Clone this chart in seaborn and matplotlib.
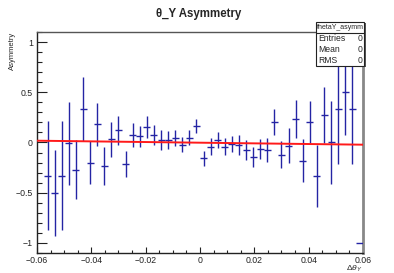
import numpy as np
import pandas as pd
import matplotlib
matplotlib.use("Agg")
import matplotlib.pyplot as plt
from matplotlib.ticker import MultipleLocator
from matplotlib.patches import Rectangle
import seaborn as sns

# bin centres (46 bins over -0.06..0.06, first one empty)
dtheta = [-0.0561, -0.0535, -0.0509, -0.0483, -0.0457, -0.0430, -0.0404, -0.0378,
          -0.0352, -0.0326, -0.0300, -0.0274, -0.0248, -0.0222, -0.0196, -0.0170,
          -0.0143, -0.0117, -0.0091, -0.0065, -0.0039, -0.0013, 0.0013, 0.0039,
          0.0065, 0.0091, 0.0117, 0.0143, 0.0170, 0.0196, 0.0222, 0.0248,
          0.0274, 0.0300, 0.0326, 0.0352, 0.0378, 0.0404, 0.0430, 0.0457,
          0.0483, 0.0509, 0.0535, 0.0561, 0.0587]
asym = [-0.33, -0.50, -0.33, -0.01, -0.27, 0.33, -0.20, 0.18,
        -0.23, 0.03, 0.12, -0.21, 0.076, 0.06, 0.15, 0.073,
        0.027, 0.023, 0.043, -0.023, 0.046, 0.165, -0.155, -0.04,
        0.027, -0.04, -0.013, -0.026, -0.072, -0.148, -0.062, -0.079,
        0.20, -0.12, -0.03, 0.23, -0.18, 0.20, -0.33, 0.27,
        0.0, 0.33, 0.50, 0.33, -1.0]
asym_err = [0.54, 0.43, 0.54, 0.41, 0.29, 0.32, 0.21, 0.21,
            0.19, 0.17, 0.14, 0.13, 0.12, 0.10, 0.11, 0.10,
            0.10, 0.09, 0.08, 0.075, 0.075, 0.07, 0.075, 0.08,
            0.08, 0.08, 0.08, 0.10, 0.10, 0.10, 0.10, 0.12,
            0.13, 0.13, 0.17, 0.19, 0.21, 0.21, 0.31, 0.28,
            0.41, 0.54, 0.43, 0.54, 0.0]
half_bin = 0.0013

# linear fit parameters (p0 + p1*x)
fit_p0 = -0.002
fit_p1 = -0.33
fit_range = [-0.06, 0.06]

stats_names = ["Entries", "Mean", "RMS"]
stats_vals = ["0", "0", "0"]

sns.set_style("ticks")
plt.rcParams['font.family'] = ['Liberation Sans', 'DejaVu Sans']
plt.rcParams['mathtext.fontset'] = 'custom'
plt.rcParams['mathtext.rm'] = 'Liberation Sans'
plt.rcParams['mathtext.it'] = 'Liberation Sans:italic'

fig = plt.figure(figsize=(3.94, 2.73), dpi=100)
ax = fig.add_axes([0.0939, 0.0733, 0.8274, 0.8095])

df = pd.DataFrame({"x": dtheta, "y": asym, "err": asym_err})
ax.errorbar(df["x"], df["y"], yerr=df["err"], xerr=half_bin, fmt="none",
            ecolor="#2424a4", elinewidth=1.0, capsize=0, zorder=3)

fit_df = pd.DataFrame({"x": fit_range})
fit_df["y"] = fit_p0 + fit_p1 * fit_df["x"]
sns.lineplot(data=fit_df, x="x", y="y", color="#ff1a1a", linewidth=1.4, ax=ax, zorder=4)

ax.set_xlim(-0.06, 0.06)
ax.set_ylim(-1.1, 1.1)
ax.set_xlabel("")
ax.set_ylabel("")
ax.xaxis.set_minor_locator(MultipleLocator(0.005))
ax.yaxis.set_minor_locator(MultipleLocator(0.1))
ax.set_xticks([-0.06, -0.04, -0.02, 0, 0.02, 0.04, 0.06])
ax.set_xticklabels(["\u22120.06", "\u22120.04", "\u22120.02", "0", "0.02", "0.04", "0.06"])
ax.set_yticks([-1, -0.5, 0, 0.5, 1])
ax.set_yticklabels(["\u22121", "\u22120.5", "0", "0.5", "1"])
ax.tick_params(axis="x", which="major", direction="in", length=4.3, width=0.8,
               labelsize=6.3, pad=2.5, colors="#222222")
ax.tick_params(axis="x", which="minor", direction="in", length=2.2, width=0.8, colors="#222222")
ax.tick_params(axis="y", which="major", direction="in", length=7.2, width=0.8,
               labelsize=6.3, pad=3, colors="#222222")
ax.tick_params(axis="y", which="minor", direction="in", length=3.6, width=0.8, colors="#222222")
ax.tick_params(top=False, right=False, which="both")

for s in ["left", "bottom"]:
    ax.spines[s].set_color("#222222")
    ax.spines[s].set_linewidth(1.0)
ax.spines["top"].set_color("#555555")
ax.spines["top"].set_linewidth(1.0)
ax.spines["right"].set_color("#888888")
ax.spines["right"].set_linewidth(2.0)

fig.text(0.503, 0.936, "\u03b8_Y Asymmetry", ha="center", va="baseline",
         fontsize=8.3, fontweight="bold")
fig.text(0.031, 0.883, "Asymmetry", rotation=90, ha="center", va="top", fontsize=5.5)
fig.text(0.921, 0.033, r"$\Delta\theta_{Y}$", ha="right", va="top", fontsize=6)

# stats box
bx0, bx1 = 316 / 394, 364 / 394
by_top, by_bot = 1 - 22 / 273, 1 - 66 / 273
by_sep = 1 - 33 / 273
fig.patches.append(Rectangle((bx0 + 0.004, by_bot - 0.005), bx1 - bx0, by_top - by_bot,
                             transform=fig.transFigure, facecolor="#555555",
                             edgecolor="none", zorder=9))
fig.patches.append(Rectangle((bx0, by_bot), bx1 - bx0, by_top - by_bot,
                             transform=fig.transFigure, facecolor="white",
                             edgecolor="#222222", linewidth=0.8, zorder=10))
fig.lines.append(plt.Line2D([bx0, bx1], [by_sep, by_sep], transform=fig.transFigure,
                            color="#222222", linewidth=0.8, zorder=11))
fig.text((bx0 + bx1) / 2, (by_top + by_sep) / 2, "thetaY_asymm", ha="center",
         va="center", fontsize=5.0, zorder=12)
row_h = (by_sep - by_bot) / 3
for i, (n, v) in enumerate(zip(stats_names, stats_vals)):
    yy = by_sep - row_h * (i + 0.5)
    fig.text(bx0 + 0.006, yy, n, ha="left", va="center", fontsize=6.2, zorder=12)
    fig.text(bx1 - 0.004, yy, v, ha="right", va="center", fontsize=6.2, zorder=12)

fig.savefig("out.png", dpi=100)
